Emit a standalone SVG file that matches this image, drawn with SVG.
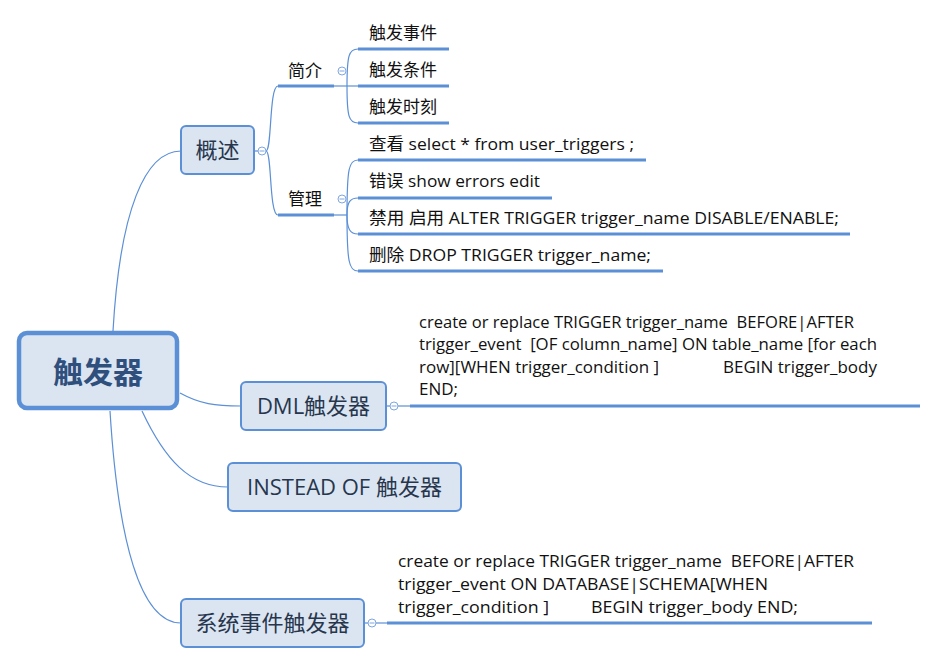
<svg xmlns="http://www.w3.org/2000/svg" width="938" height="664" viewBox="0 0 938 664">
<style>
.c{fill:none;stroke:#5b8fd6;stroke-width:1.2}
.u{fill:none;stroke:#5b8fd6;stroke-width:3}
.box{fill:#dbe5f1;stroke:#5b8fd6;stroke-width:2}
.root{fill:#dbe5f1;stroke:#5b8fd6;stroke-width:4.5}
.t{font-family:"Open Sans","Noto Sans CJK SC",sans-serif;fill:#111;white-space:pre}
.s{font-size:17px}
.m{font-size:22px;fill:#27364d}
.r{font-size:30px;font-weight:bold;fill:#2f4f7d;font-family:"Noto Sans CJK SC",sans-serif}
.k{fill:#fff;stroke:#7fa6e0;stroke-width:1}
.km{stroke:#7fa6e0;stroke-width:1}
</style>
<rect width="938" height="664" fill="#fff"/>
<g id="connectors">
<path class="c" d="M113,331 C120,210 145,151 181,151"/>
<path class="c" d="M180,393 C200,404 215,406 241,406"/>
<path class="c" d="M142,411 C165,460 190,487 228,487"/>
<path class="c" d="M110,411 C118,540 140,623 181,623"/>
<path class="c" d="M255,151 L266,151"/>
<path class="c" d="M266,151 C272,151 269,86 278,86"/>
<path class="c" d="M266,151 C272,151 269,215 278,215"/>
<path class="c" d="M334,86 L358,86"/>
<path class="c" d="M347,86 C347,55 349,49 358,49"/>
<path class="c" d="M347,86 C347,117 349,123 358,123"/>
<path class="c" d="M334,215 L347,215"/>
<path class="c" d="M347,215 C347,168 349,160 358,160"/>
<path class="c" d="M347,215 C347,202 350,198 358,198"/>
<path class="c" d="M347,215 C347,229 350,234 358,234"/>
<path class="c" d="M347,215 C347,262 349,271 358,271"/>
<path class="c" d="M386,406 L410,406"/>
<path class="c" d="M364,623 L387,623"/>
</g>
<g id="root">
<rect class="root" x="19" y="333" width="158" height="75" rx="8"/>
<text class="r" x="98" y="383" text-anchor="middle">触发器</text>
</g>
<g id="gaishu">
<rect class="box" x="181" y="126" width="73" height="48" rx="5"/>
<text class="t m" x="217.5" y="158" text-anchor="middle">概述</text>
<circle class="k" cx="262" cy="151" r="4"/><path class="km" d="M259.5,151h5"/>
</g>
<g id="jianjie">
<text class="t s" x="288" y="77">简介</text>
<path class="u" d="M278,86 H334"/>
<circle class="k" cx="342" cy="71" r="4"/><path class="km" d="M339.5,71h5"/>
</g>
<g id="event">
<text class="t s" x="369" y="39">触发事件</text>
<path class="u" d="M358,49 H449"/>
</g>
<g id="cond">
<text class="t s" x="369" y="76">触发条件</text>
<path class="u" d="M358,86 H449"/>
</g>
<g id="moment">
<text class="t s" x="369" y="113">触发时刻</text>
<path class="u" d="M358,123 H449"/>
</g>
<g id="guanli">
<text class="t s" x="288" y="205">管理</text>
<path class="u" d="M278,215 H334"/>
<circle class="k" cx="342" cy="199" r="4"/><path class="km" d="M339.5,199h5"/>
</g>
<g id="view">
<text class="t s" x="369" y="150" textLength="265" lengthAdjust="spacingAndGlyphs">查看 select * from user_triggers ;</text>
<path class="u" d="M358,160 H646"/>
</g>
<g id="error">
<text class="t s" x="369" y="187" textLength="171" lengthAdjust="spacingAndGlyphs">错误 show errors edit</text>
<path class="u" d="M358,198 H552"/>
</g>
<g id="disable">
<text class="t s" x="369" y="224" textLength="470" lengthAdjust="spacingAndGlyphs">禁用 启用 ALTER TRIGGER trigger_name DISABLE/ENABLE;</text>
<path class="u" d="M358,234 H850"/>
</g>
<g id="drop">
<text class="t s" x="369" y="261" textLength="282" lengthAdjust="spacingAndGlyphs">删除 DROP TRIGGER trigger_name;</text>
<path class="u" d="M358,271 H663"/>
</g>
<g id="dml">
<rect class="box" x="241" y="382" width="145" height="48" rx="5"/>
<text class="t m" x="313.5" y="414" text-anchor="middle">DML触发器</text>
<circle class="k" cx="394" cy="406" r="4"/><path class="km" d="M391.5,406h5"/>
</g>
<g id="dml-text">
<text class="t s" x="419" y="328" textLength="435" lengthAdjust="spacingAndGlyphs">create or replace TRIGGER trigger_name  BEFORE|AFTER</text>
<text class="t s" x="419" y="350" textLength="458" lengthAdjust="spacingAndGlyphs">trigger_event  [OF column_name] ON table_name [for each</text>
<text class="t s" x="419" y="373" textLength="240" lengthAdjust="spacingAndGlyphs">row][WHEN trigger_condition ]</text>
<text class="t s" x="723" y="373" textLength="154" lengthAdjust="spacingAndGlyphs">BEGIN trigger_body</text>
<text class="t s" x="419" y="395">END;</text>
<path class="u" d="M410,406 H920"/>
</g>
<g id="instead">
<rect class="box" x="228" y="463" width="233" height="48" rx="5"/>
<text class="t m" x="344.5" y="495" text-anchor="middle">INSTEAD OF 触发器</text>
</g>
<g id="system">
<rect class="box" x="181" y="599" width="183" height="48" rx="5"/>
<text class="t m" x="272.5" y="631" text-anchor="middle">系统事件触发器</text>
<circle class="k" cx="372" cy="623" r="4"/><path class="km" d="M369.5,623h5"/>
</g>
<g id="system-text">
<text class="t s" x="398" y="567" textLength="456" lengthAdjust="spacingAndGlyphs">create or replace TRIGGER trigger_name  BEFORE|AFTER</text>
<text class="t s" x="398" y="590" textLength="370" lengthAdjust="spacingAndGlyphs">trigger_event ON DATABASE|SCHEMA[WHEN</text>
<text class="t s" x="398" y="613" textLength="151" lengthAdjust="spacingAndGlyphs">trigger_condition ]</text>
<text class="t s" x="591" y="613" textLength="207" lengthAdjust="spacingAndGlyphs">BEGIN trigger_body END;</text>
<path class="u" d="M387,623 H872"/>
</g>
</svg>
